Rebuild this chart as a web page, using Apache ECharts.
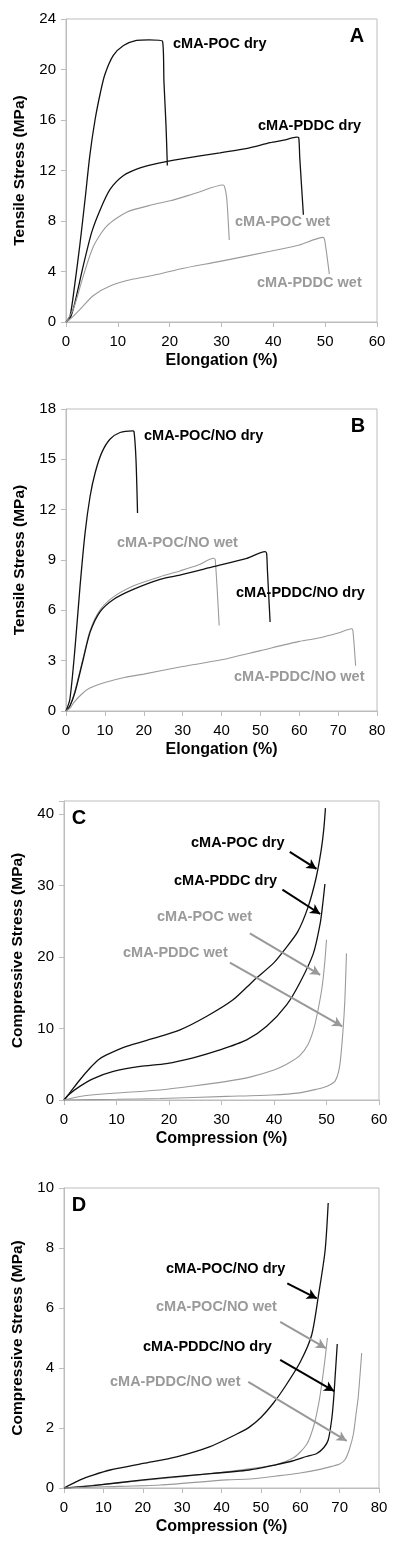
<!DOCTYPE html>
<html>
<head>
<meta charset="utf-8">
<script src="https://cdn.jsdelivr.net/npm/echarts@6/dist/echarts.min.js"></script>
<style>
html,body{margin:0;padding:0;background:#fff;}
#chart{width:400px;height:1559px;}
</style>
</head>
<body>
<div id="chart"></div>
<script>
// ---------- Panel A: tensile, [elongation %, stress MPa] ----------
var aPocDry = [[0,0],[0.8,0.5],[1.7,3.0],[2.7,6.2],[3.7,9.8],[4.6,13.2],[5.6,16.0],[6.6,18.1],[7.5,19.6],[9.1,21.1],[11.1,21.9],[13.6,22.3],[16,22.35],[18.6,22.25],[18.9,19.0],[19.3,15.5],[19.55,12.4]];
var aPddcDry = [[0,0],[0.8,0.3],[1.7,1.5],[3.3,4.4],[4.95,7.1],[6.6,8.9],[8.5,10.5],[11.1,11.6],[14.3,12.2],[18.1,12.6],[22,12.9],[29.7,13.4],[35,13.75],[39.4,14.2],[42,14.4],[44.5,14.65],[44.9,14.6],[45.1,13.0],[45.8,8.5]];
var aPocWet = [[0,0],[1.4,1.0],[3.3,3.6],[5.3,6.0],[7.85,7.6],[11.7,8.7],[16.8,9.3],[20.1,9.6],[25,10.2],[30.3,10.85],[30.6,10.7],[31.0,9.85],[31.5,6.5]];
var aPddcWet = [[0,0],[1,0.3],[2.7,1.0],[5.3,2.1],[8.5,2.85],[13,3.4],[18.1,3.8],[22,4.2],[29.7,4.8],[39.4,5.6],[45,6.1],[49.6,6.7],[49.9,6.5],[50.8,3.8]];

// ---------- Panel B ----------
var bPocNoDry = [[0,0],[1.0,0.7],[2.3,3.7],[3.6,7.4],[4.9,10.6],[6.2,12.8],[7.5,14.2],[9.2,15.4],[11.3,16.2],[13.9,16.6],[17.1,16.7],[17.5,16.65],[18.0,15.0],[18.4,11.8]];
var bPddcNoDry = [[0,0],[1,0.3],[2.3,1.1],[4.45,3.1],[6.2,4.7],[8.7,5.9],[12.2,6.65],[17.3,7.25],[24.2,7.85],[29.3,8.1],[37.9,8.6],[46.5,9.1],[51.2,9.5],[51.6,9.4],[51.8,8.45],[52.5,5.3]];
var bPocNoWet = [[0,0],[1,0.3],[2.3,1.2],[4.45,3.2],[6.2,4.8],[8.7,6.0],[12.2,6.8],[17.3,7.45],[24.2,8.0],[29.3,8.35],[34,8.7],[38.0,9.1],[38.4,9.0],[39.4,5.1]];
var bPddcNoWet = [[0,0],[1,0.15],[2,0.5],[4,1.0],[6,1.35],[10,1.7],[15,2.0],[20,2.2],[30,2.65],[40,3.05],[50,3.6],[60,4.15],[65,4.35],[70,4.65],[73.5,4.9],[73.8,4.8],[74.5,2.7]];

// ---------- Panel C: compression, [compression %, stress MPa] ----------
var cPocDry = [[0,0],[1,0.9],[3,2.8],[5,4.5],[6.5,5.6],[8.1,6.3],[11.9,7.5],[17,8.6],[22.1,9.8],[27.2,11.7],[32.2,14],[36,16.6],[40,19.2],[42,21],[44.5,23.5],[46.5,27],[48,31],[49,35],[49.5,38],[49.8,40.8]];
var cPddcDry = [[0,0],[1,0.8],[3,1.9],[5.6,3.0],[9.4,4.0],[14.5,4.7],[19.5,5.1],[24.6,5.9],[29.7,7.0],[34.8,8.4],[38.6,10.3],[42.4,13.3],[45,16.5],[47.5,20.5],[48.8,24.7],[49.3,27.5],[49.7,30.2]];
var cPocWet = [[0,0],[3,0.5],[8.7,0.9],[18.3,1.4],[24.6,1.95],[31,2.6],[35.4,3.2],[40,4.2],[42.4,5.0],[44.9,6.2],[46.5,7.8],[47.6,10],[48.5,13],[49.2,16],[49.7,19.5],[50,22.4]];
var cPddcWet = [[0,0],[10,0.1],[18.3,0.2],[31,0.5],[39.5,0.7],[44.9,1.0],[48.1,1.5],[50,1.9],[51.6,2.6],[52.5,4.7],[53.1,9.3],[53.5,14],[53.8,20.5]];

// ---------- Panel D ----------
var dPocNoDry = [[0,0],[4.1,0.27],[7.4,0.43],[11.7,0.6],[20.1,0.82],[28.6,1.04],[37.1,1.38],[43.9,1.8],[47,2.02],[50,2.35],[53,2.8],[56,3.35],[60,4.2],[62.9,5.1],[64.6,6.4],[66.3,7.9],[67.1,9.5]];
var dPddcNoDry = [[0,0],[7.4,0.08],[20.1,0.27],[32.8,0.43],[47,0.6],[54,0.78],[58,0.9],[61.6,1.05],[64.2,1.15],[66,1.35],[67.1,1.6],[68,2.3],[68.5,3.0],[68.9,3.8],[69.4,4.8]];
var dPocNoWet = [[0,0],[10,0.12],[20,0.25],[30,0.38],[40,0.52],[47,0.64],[54,0.78],[58.2,1.0],[60,1.2],[61.6,1.45],[62.5,1.7],[63.7,2.2],[64.8,2.9],[65.5,3.5],[66.2,4.2],[66.9,5.0]];
var dPddcNoWet = [[0,0],[10,0.04],[24.4,0.1],[41.3,0.27],[47.2,0.3],[54,0.4],[60,0.5],[65,0.62],[68,0.72],[70,0.8],[71.4,0.95],[72.5,1.3],[73.5,1.8],[74.2,2.5],[74.7,3.0],[75.2,3.8],[75.6,4.5]];

// ---------- annotation arrows (data coords: start, end) ----------
var cArrows = [
  {from:[43.0,34.7], to:[48.1,32.3], color:'#000'},
  {from:[41.6,29.4], to:[48.8,26.0], color:'#000'},
  {from:[35.4,23.3], to:[48.8,17.5], color:'#999'},
  {from:[31.6,19.2], to:[53.0,10.3], color:'#999'}
];
var dArrows = [
  {from:[56.7,6.82], to:[64.2,6.32], color:'#000'},
  {from:[54.9,5.54], to:[66.5,4.66], color:'#999'},
  {from:[54.9,4.27], to:[68.6,3.23], color:'#000'},
  {from:[46.8,3.54], to:[71.8,1.57], color:'#999'}
];

// ---------- axis settings ----------
var xMax = [60, 80, 60, 80];
var yMax = [24, 18, 41.8, 10];
var yInterval = [4, 3, 10, 2];
var xNames = ['Elongation (%)', 'Elongation (%)', 'Compression (%)', 'Compression (%)'];
var yNames = ['Tensile Stress (MPa)', 'Tensile Stress (MPa)', 'Compressive Stress (MPa)', 'Compressive Stress (MPa)'];
var panelLetters = ['A', 'B', 'C', 'D'];

var BLACK = '#111';
var GRAY = '#9a9a9a';
var AXIS = '#bdbdbd';
var FONT = '"Liberation Sans", Arial, sans-serif';

var grids = [
  {left:66, top:19, width:311, height:303},
  {left:66, top:409, width:311, height:302},
  {left:64, top:801, width:315, height:299},
  {left:64, top:1188, width:315, height:300}
];
grids.forEach(function(g){ g.show = true; g.borderColor = AXIS; g.borderWidth = 1; g.backgroundColor = 'transparent'; });

var xAxes = [], yAxes = [];
for (var i = 0; i < 4; i++) {
  xAxes.push({
    type:'value', gridIndex:i, min:0, max:xMax[i], interval:10,
    name:xNames[i], nameLocation:'middle', nameGap:31,
    nameTextStyle:{fontFamily:FONT, fontWeight:'bold', fontSize:16, color:'#000'},
    axisLine:{show:true, lineStyle:{color:AXIS, width:1}},
    axisTick:{show:true, inside:false, length:5, lineStyle:{color:AXIS}},
    axisLabel:{fontFamily:FONT, fontSize:15, color:'#000', margin:12},
    splitLine:{show:false}
  });
  yAxes.push({
    type:'value', gridIndex:i, min:0, max:yMax[i], interval:yInterval[i],
    name:yNames[i], nameLocation:'middle', nameGap:38, nameRotate:90,
    nameTextStyle:{fontFamily:FONT, fontWeight:'bold', fontSize:15.5, color:'#000'},
    axisLine:{show:true, lineStyle:{color:AXIS, width:1}},
    axisTick:{show:true, inside:false, length:5, lineStyle:{color:AXIS}},
    axisLabel:{fontFamily:FONT, fontSize:15, color:'#000', margin:10,
      formatter:(function(iv){ return function(v){ return (Math.abs(v/iv - Math.round(v/iv)) < 1e-6) ? String(v) : ''; }; })(yInterval[i])},
    splitLine:{show:false}
  });
}

function line(data, idx, color, width) {
  return {type:'line', data:data, xAxisIndex:idx, yAxisIndex:idx, showSymbol:false, symbol:'none',
    smooth:0.25,
    lineStyle:{color:color, width:width}, silent:true, animation:false, z:3};
}
function arrowSeries(arrows, idx) {
  return {type:'line', data:[], xAxisIndex:idx, yAxisIndex:idx, silent:true, animation:false, z:4,
    markLine:{silent:true, animation:false, symbol:['none','arrow'], symbolSize:[8,10],
      label:{show:false},
      data:arrows.map(function(a){
        return [{coord:a.from, lineStyle:{color:a.color, width:2, type:'solid'}, itemStyle:{color:a.color}}, {coord:a.to}];
      })}};
}

var series = [
  line(aPocDry,0,BLACK,1.3), line(aPddcDry,0,BLACK,1.3), line(aPocWet,0,GRAY,1.1), line(aPddcWet,0,GRAY,1.1),
  line(bPocNoDry,1,BLACK,1.3), line(bPocNoWet,1,GRAY,1.1), line(bPddcNoDry,1,BLACK,1.3), line(bPddcNoWet,1,GRAY,1.1),
  line(cPocDry,2,BLACK,1.3), line(cPddcDry,2,BLACK,1.3), line(cPocWet,2,GRAY,1.1), line(cPddcWet,2,GRAY,1.1),
  line(dPocNoDry,3,BLACK,1.3), line(dPocNoWet,3,GRAY,1.1), line(dPddcNoDry,3,BLACK,1.3), line(dPddcNoWet,3,GRAY,1.1),
  arrowSeries(cArrows,2), arrowSeries(dArrows,3)
];

// text annotations: [text, left x, center y, color]
var labels = [
  ['cMA-POC dry',173,44,'#000'], ['cMA-PDDC dry',258,126,'#000'], ['cMA-POC wet',235,222,GRAY], ['cMA-PDDC wet',257,283,GRAY],
  ['cMA-POC/NO dry',144,436,'#000'], ['cMA-POC/NO wet',117,543,GRAY], ['cMA-PDDC/NO dry',236,593,'#000'], ['cMA-PDDC/NO wet',234,677,GRAY],
  ['cMA-POC dry',191,843,'#000'], ['cMA-PDDC dry',174,881,'#000'], ['cMA-POC wet',157,917,GRAY], ['cMA-PDDC wet',123,953,GRAY],
  ['cMA-POC/NO dry',166,1269,'#000'], ['cMA-POC/NO wet',156,1307,GRAY], ['cMA-PDDC/NO dry',143,1347,'#000'], ['cMA-PDDC/NO wet',110,1382,GRAY]
];
var letterPos = [[357,36],[358,426],[79,818],[79,1205]];

var graphics = labels.map(function(l){
  return {type:'text', x:l[1], y:l[2], z:10, silent:true,
    style:{text:l[0], fill:l[3], font:'bold 14.5px ' + FONT, align:'left', verticalAlign:'middle'}};
});
panelLetters.forEach(function(t, i){
  graphics.push({type:'text', x:letterPos[i][0], y:letterPos[i][1], z:10, silent:true,
    style:{text:t, fill:'#000', font:'bold 20px ' + FONT, align:'center', verticalAlign:'middle'}});
});

var chart = echarts.init(document.getElementById('chart'), null, {renderer:'canvas'});
chart.setOption({
  backgroundColor:'#fff',
  animation:false,
  grid:grids,
  xAxis:xAxes,
  yAxis:yAxes,
  series:series,
  graphic:graphics
});
</script>
</body>
</html>
